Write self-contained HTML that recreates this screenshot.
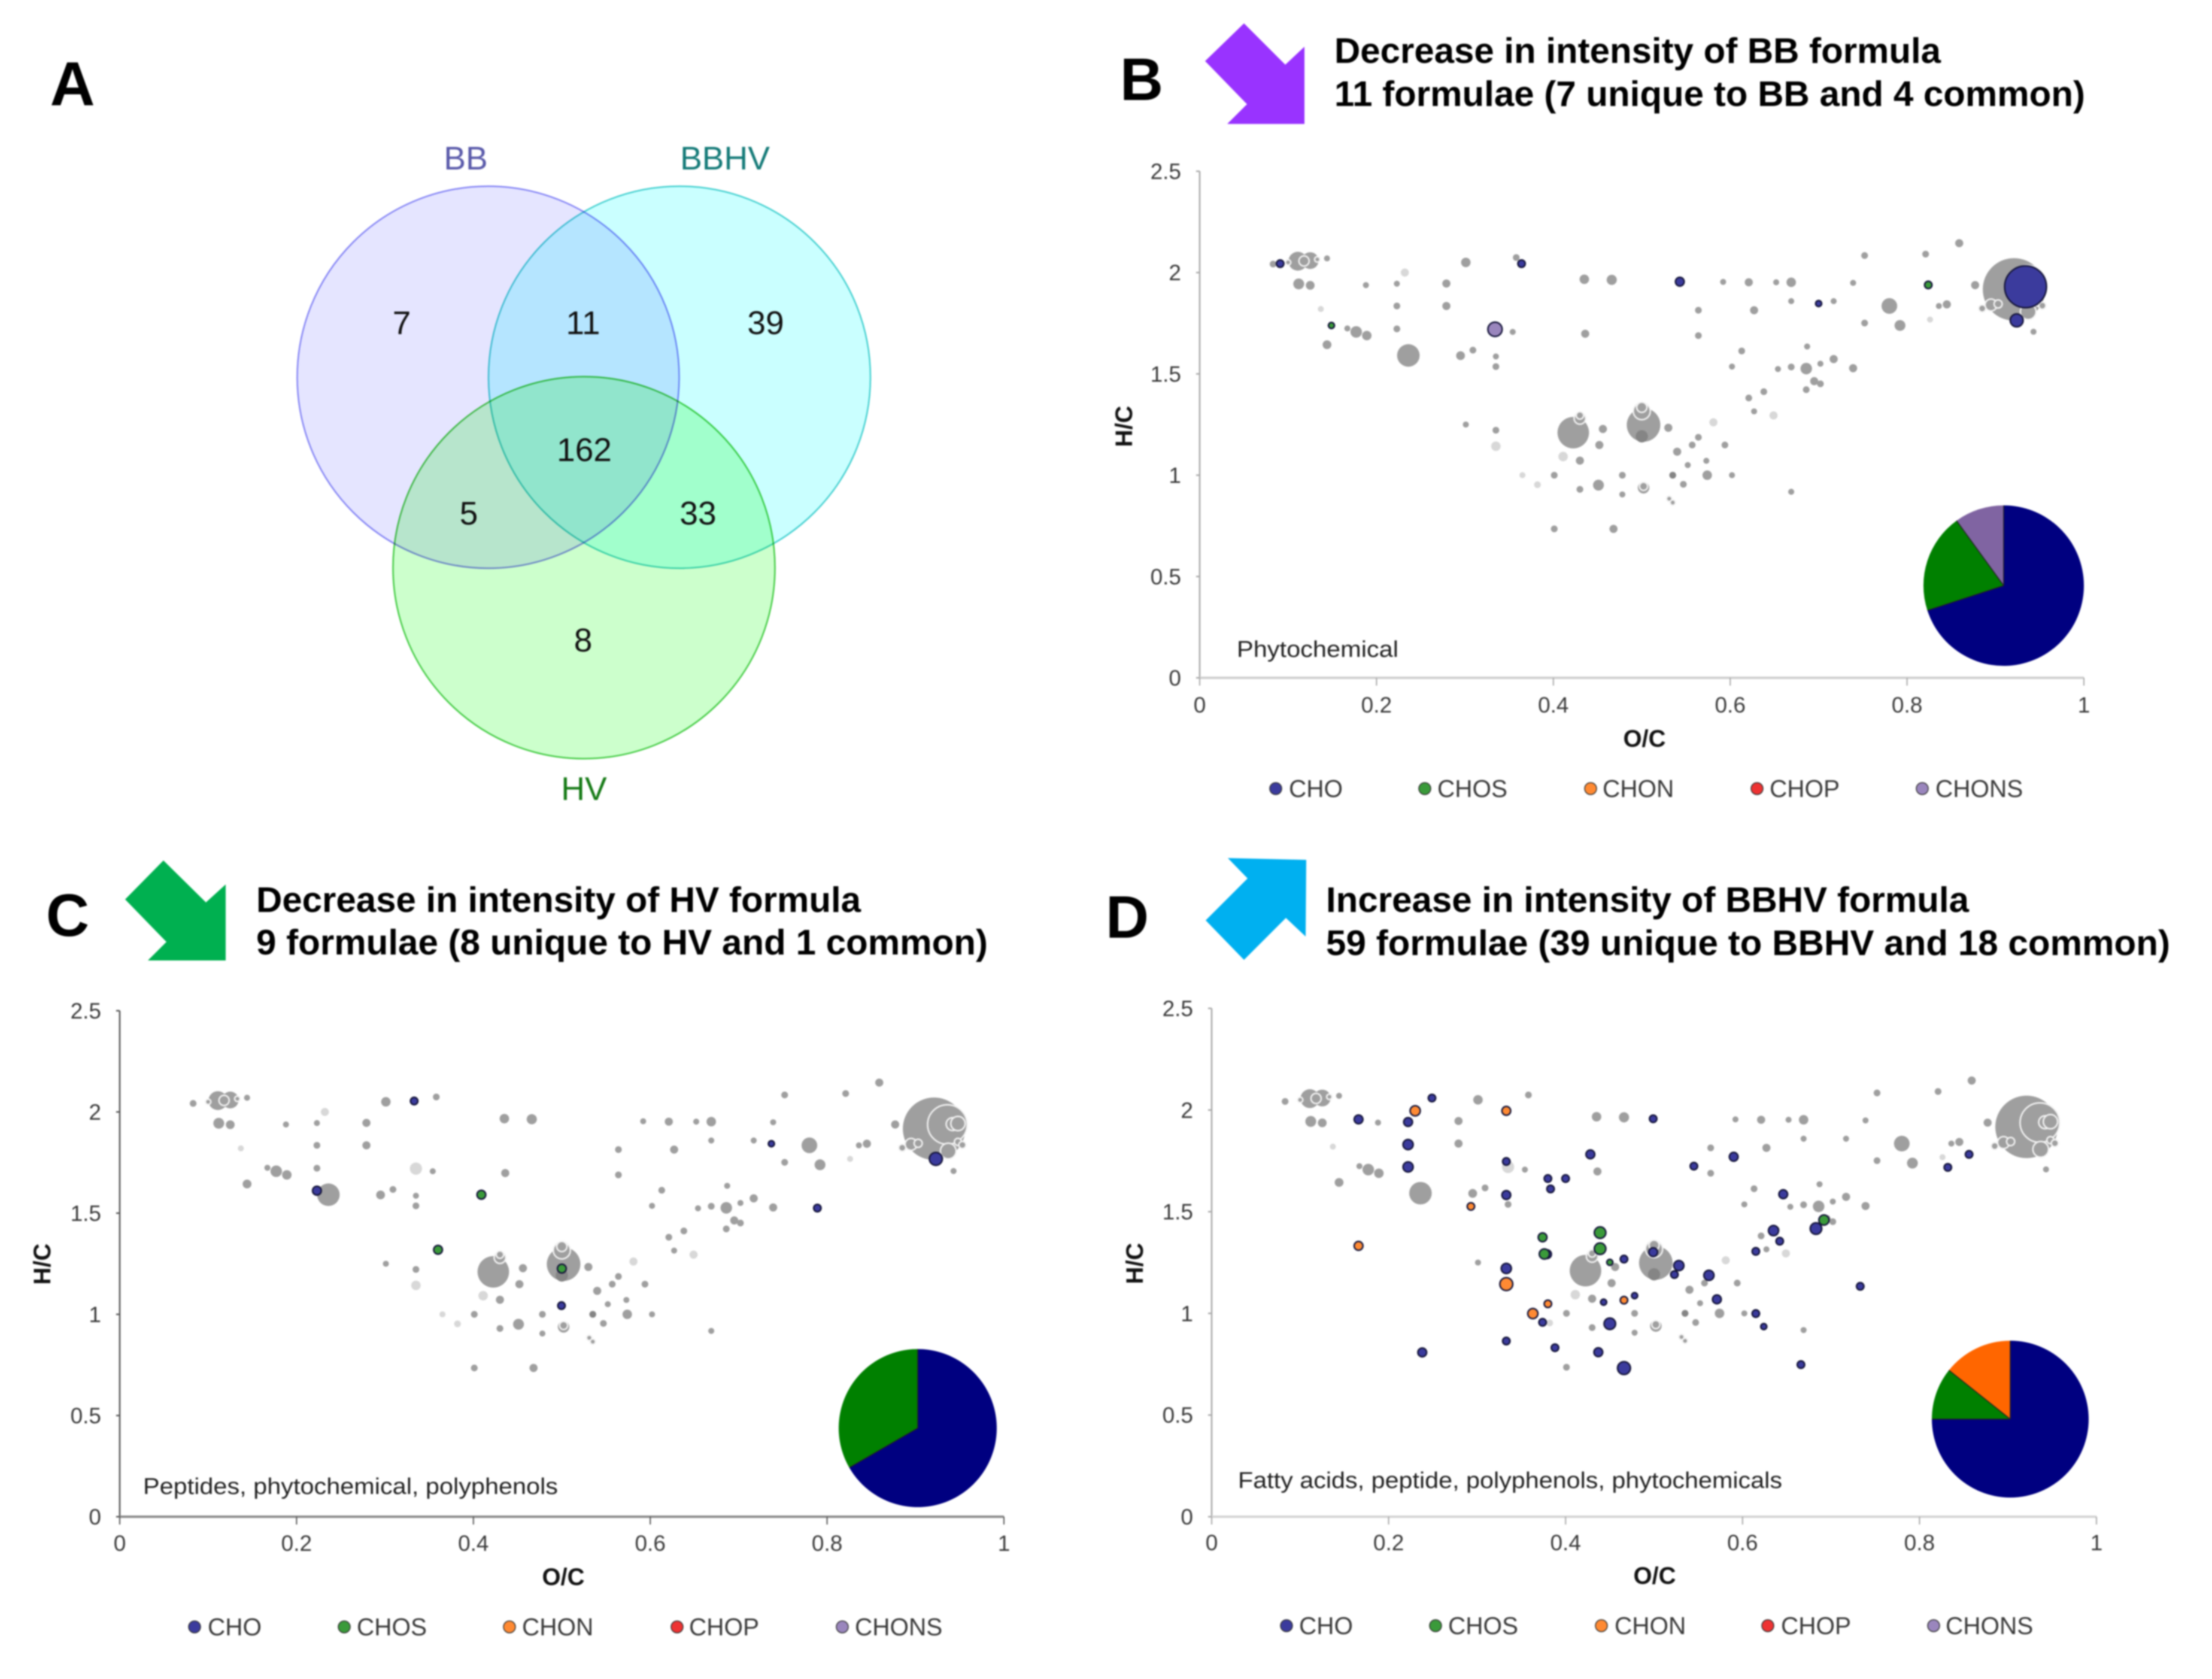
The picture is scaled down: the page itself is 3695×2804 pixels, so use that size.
<!DOCTYPE html>
<html lang="en">
<head>
<meta charset="utf-8">
<title>Van Krevelen diagrams of BB, HV and BBHV formulae</title>
<style>
html,body{margin:0;padding:0;background:#fff;}
svg{display:block;font-family:"Liberation Sans",sans-serif;filter:blur(1.2px);}
.panel-letter{font-weight:700;font-size:100px;fill:#000;text-anchor:middle;}
.title{font-weight:700;font-size:59px;fill:#000;}
.venn-count{font-size:55px;fill:#111;text-anchor:middle;}
.venn-name{font-size:55px;text-anchor:middle;}
.tick{font-size:37px;fill:#3a3a3a;}
.axis-title{font-weight:700;font-size:40px;fill:#111;text-anchor:middle;}
.legend-text{font-size:40.5px;fill:#3a3a3a;}
.note{font-size:38px;fill:#222;}
.legend-dot{stroke:#333;stroke-width:1.5;}
</style>
</head>
<body>
<svg id="figure" xmlns="http://www.w3.org/2000/svg" width="3695" height="2804" viewBox="0 0 3695 2804">
  <rect x="0" y="0" width="3695" height="2804" fill="#fff"/>

  <g>
    <text class="panel-letter" x="121" y="176" style="font-size:104px">A</text>
    <circle cx="815.5" cy="630" r="319" fill="#e5e5ff" stroke="#8585f5" stroke-width="2.5" style="mix-blend-mode:multiply"/>
    <circle cx="1135" cy="630" r="319" fill="#caffff" stroke="#45d0d0" stroke-width="2.5" style="mix-blend-mode:multiply"/>
    <circle cx="975.5" cy="948" r="319" fill="#ccffcc" stroke="#45cc45" stroke-width="2.5" style="mix-blend-mode:multiply"/>
    <text class="venn-name" x="778" y="283" fill="#5a5aaa">BB</text>
    <text class="venn-name" x="1211" y="283" fill="#147a78">BBHV</text>
    <text class="venn-name" x="975.5" y="1336" fill="#157a15">HV</text>
    <text class="venn-count" x="671" y="558">7</text>
    <text class="venn-count" x="974" y="558">11</text>
    <text class="venn-count" x="1279" y="558">39</text>
    <text class="venn-count" x="976" y="770">162</text>
    <text class="venn-count" x="783" y="876">5</text>
    <text class="venn-count" x="1166" y="876">33</text>
    <text class="venn-count" x="974" y="1088">8</text>
  </g>

  <g>
    <text class="panel-letter" x="1907" y="167">B</text>
    <polygon fill="#9933ff" points="2078,39 2013,102 2083,174 2050,207 2179,207 2179,78 2147,108"/>
    <text class="title" x="2229" y="105" textLength="1013" lengthAdjust="spacingAndGlyphs">Decrease in intensity of BB formula</text>
    <text class="title" x="2229" y="177" textLength="1254" lengthAdjust="spacingAndGlyphs">11 formulae (7 unique to BB and 4 common)</text>
  </g>
  <g>
    <text class="panel-letter" x="113" y="1563">C</text>
    <polygon fill="#00b050" points="273,1437 209,1502 278,1573 247,1604 377,1604 377,1477 344,1507"/>
    <text class="title" x="428" y="1523" textLength="1010" lengthAdjust="spacingAndGlyphs">Decrease in intensity of HV formula</text>
    <text class="title" x="428" y="1594" textLength="1222" lengthAdjust="spacingAndGlyphs">9 formulae (8 unique to HV and 1 common)</text>
  </g>
  <g>
    <text class="panel-letter" x="1883" y="1566">D</text>
    <polygon fill="#00b0f0" points="2051,1433 2084,1467 2014,1537 2078,1603 2148,1533 2181,1564 2182,1436"/>
    <text class="title" x="2215" y="1523" textLength="1074" lengthAdjust="spacingAndGlyphs">Increase in intensity of BBHV formula</text>
    <text class="title" x="2215" y="1595" textLength="1410" lengthAdjust="spacingAndGlyphs">59 formulae (39 unique to BBHV and 18 common)</text>
  </g>

  <g>
    <text class="axis-title" x="2747" y="1247">O/C</text>
    <text class="axis-title" transform="translate(1891 712) rotate(-90)">H/C</text>
    <text class="note" x="2066" y="1097" textLength="270" lengthAdjust="spacingAndGlyphs">Phytochemical</text>
    <g>
      <circle class="legend-dot" cx="2131" cy="1317" r="10" fill="#3b3b9d"/>
      <text class="legend-text" x="2153" y="1331">CHO</text>
      <circle class="legend-dot" cx="2380" cy="1317" r="10" fill="#3a9a3a"/>
      <text class="legend-text" x="2401" y="1331">CHOS</text>
      <circle class="legend-dot" cx="2657" cy="1317" r="10" fill="#ff8a33"/>
      <text class="legend-text" x="2677" y="1331">CHON</text>
      <circle class="legend-dot" cx="2935" cy="1317" r="10" fill="#ee3333"/>
      <text class="legend-text" x="2956" y="1331">CHOP</text>
      <circle class="legend-dot" cx="3211" cy="1317" r="10" fill="#9a86bd"/>
      <text class="legend-text" x="3233" y="1331">CHONS</text>
    </g>
  </g>
  <g>
    <text class="axis-title" x="941" y="2647">O/C</text>
    <text class="axis-title" transform="translate(84 2111) rotate(-90)">H/C</text>
    <text class="note" x="239" y="2495" textLength="693" lengthAdjust="spacingAndGlyphs">Peptides, phytochemical, polyphenols</text>
    <g>
      <circle class="legend-dot" cx="325" cy="2717" r="10" fill="#3b3b9d"/>
      <text class="legend-text" x="347" y="2731">CHO</text>
      <circle class="legend-dot" cx="575" cy="2717" r="10" fill="#3a9a3a"/>
      <text class="legend-text" x="596" y="2731">CHOS</text>
      <circle class="legend-dot" cx="851" cy="2717" r="10" fill="#ff8a33"/>
      <text class="legend-text" x="872" y="2731">CHON</text>
      <circle class="legend-dot" cx="1131" cy="2717" r="10" fill="#ee3333"/>
      <text class="legend-text" x="1151" y="2731">CHOP</text>
      <circle class="legend-dot" cx="1407" cy="2717" r="10" fill="#9a86bd"/>
      <text class="legend-text" x="1428" y="2731">CHONS</text>
    </g>
  </g>
  <g>
    <text class="axis-title" x="2764" y="2645">O/C</text>
    <text class="axis-title" transform="translate(1909 2110) rotate(-90)">H/C</text>
    <text class="note" x="2068" y="2485" textLength="909" lengthAdjust="spacingAndGlyphs">Fatty acids, peptide, polyphenols, phytochemicals</text>
    <g>
      <circle class="legend-dot" cx="2149" cy="2715" r="10" fill="#3b3b9d"/>
      <text class="legend-text" x="2170" y="2729">CHO</text>
      <circle class="legend-dot" cx="2398" cy="2715" r="10" fill="#3a9a3a"/>
      <text class="legend-text" x="2419" y="2729">CHOS</text>
      <circle class="legend-dot" cx="2675" cy="2715" r="10" fill="#ff8a33"/>
      <text class="legend-text" x="2697" y="2729">CHON</text>
      <circle class="legend-dot" cx="2953" cy="2715" r="10" fill="#ee3333"/>
      <text class="legend-text" x="2975" y="2729">CHOP</text>
      <circle class="legend-dot" cx="3230" cy="2715" r="10" fill="#9a86bd"/>
      <text class="legend-text" x="3250" y="2729">CHONS</text>
    </g>
  </g>
</svg>

<script>
const xTickLabels = [0, 0.2, 0.4, 0.6, 0.8, 1];
const yTickLabels = [0, 0.5, 1, 1.5, 2, 2.5];

/* Shared background formulae: O/C, H/C and relative intensity */
const grayOC = [
  .083,.144,.112,.125,.188,.223,.301,.358,.279,.223,
  .279,.167,.177,.189,.223,.144,.236,.295,.309,.335,
  .335,.354,.436,.435,.466,.592,.621,.652,.669,.739,
  .752,.821,.859,.877,.78,.792,.752,.836,.845,.943,
  .669,.717,.564,.627,.564,.687,.613,.602,.654,.669,
  .686,.702,.717,.739,.695,.702,.686,.638,.621,.627,
  .4225,.502,.301,.335,.456,.452,.43,.53,.564,.557,
  .54,.594,.552,.573,.401,.478,.535,.574,.602,.43,
  .451,.502,.478,.547,.669,.401,.468,.921,.111,.125
];
const grayHC = [
  2.042,2.07,1.944,1.937,1.938,1.945,2.05,2.074,1.946,1.835,
  1.835,1.724,1.707,1.689,1.722,1.644,1.591,1.59,1.617,1.586,
  1.536,1.707,1.698,1.967,1.964,1.954,1.952,1.952,1.952,1.949,
  2.084,2.091,2.145,1.938,1.835,1.739,1.751,1.835,1.843,1.708,
  1.859,1.859,1.814,1.814,1.689,1.635,1.613,1.536,1.524,1.534,
  1.526,1.55,1.573,1.528,1.464,1.451,1.422,1.412,1.381,1.315,
  1.21,1.248,1.25,1.222,1.228,1.149,1.072,1.234,1.187,1.149,
  1.116,1.149,1.05,1.071,1,1,1,1,1,.93,
  .951,.938,.905,.955,.918,.735,.735,1.917,2.056,2.059
];
const grayIntensity = [
  3.5,3,6.5,5,3,3,5.5,3.5,4.5,3.5,
  4.5,3,7,5.5,3.5,5,15,5,3.5,3,
  3.5,3,4.5,5.5,6,3,4.5,3,5.5,3,
  3.5,3.5,4.5,4.5,10,6.5,3.5,3,4.5,3,
  3,3,3.5,4.5,3.5,3,3.5,3,3,3.5,
  7,3,4.5,4.5,4.5,3.5,3.5,3.5,3.5,3,
  21.5,23,3,3.5,4.5,4.5,4.5,4.5,3.5,3.5,
  4.5,3.5,3,3,3.5,3.5,3.5,5.5,3,3.5,
  6.5,7,3,3.5,3,3.5,4.5,44,12.3,10.8
];

const paleOC = [.232,.137,.826,.649,.335,.411,.581,.365,.382,.335];
const paleHC = [2,1.82,1.768,1.295,1.143,1.092,1.261,1,.953,1.72];
const paleIntensity = [4.5,3,3,4.5,5.5,5.5,4.5,3,3.5,7.5];

/* Overlapping formulae that show as white-edged rings */
const ringOC = [.936,.942,.948,.937,.948,.953,.895,.903,.885,.118,.133,.1,.5,.5,.43,.43,.502,.531,.535];
const ringHC = [1.938,1.94,1.943,1.807,1.852,1.837,1.84,1.845,1.823,2.057,2.065,2.05,1.316,1.335,1.28,1.295,.945,.884,.865];
const ringIntensity = [27.3,8,9,10,3.8,3.8,7.3,4.5,3.8,6,2.5,2.5,11,6,7,4,4.5,2.5,2.5];

const shadeOC = [.5,.535];
const shadeHC = [1.192,1];
const shadeIntensity = [7.5,3.5];

/* Panel B */
const bChoOC = [.091,.364,.543,.70,.934,.924];
const bChoHC = [2.044,2.044,1.955,1.847,1.93,1.764];
const bChoIntensity = [4,4,5,3,29,8];
const bChosOC = [.149,.824];
const bChosHC = [1.739,1.939];
const bChosIntensity = [3,4];
const bChonsOC = [.334];
const bChonsHC = [1.72];
const bChonsIntensity = [9];
const bPieValues = [7,2,1];

/* Panel C */
const cChoOC = [.333,.223,.789,.737,.923,.4996];
const cChoHC = [2.054,1.611,1.525,1.843,1.768,1.043];
const cChoIntensity = [4,5,4,3,8,4];
const cChosOC = [.409,.36,.5];
const cChosHC = [1.591,1.319,1.226];
const cChosIntensity = [5,5,5];
const cPieValues = [6,3];

/* Panel D */
const dChoOC = [.249,.166,.222,.222,.222,.333,.333,.428,.38,.40,.383,.499,.545,.59,.646,.856,.832,.635,.683,.642,.615,.379,.499,.333,.528,.523,.562,.466,.478,.443,.571,.615,.624,.374,.45,.333,.388,.437,.238,.466,.666,.733];
const dChoHC = [2.059,1.954,1.941,1.83,1.72,1.747,1.582,1.782,1.663,1.663,1.612,1.957,1.724,1.77,1.586,1.782,1.718,1.407,1.417,1.355,1.305,1.291,1.301,1.221,1.235,1.191,1.187,1.267,1.087,1.055,1.069,.999,.935,.956,.949,.864,.831,.809,.808,.731,.748,1.133];
const dChoIntensity = [4,5,5,6,6,4,5,5,4,4,4,4,4,5,5,4,4,6,7,4,4,5,5,6,6,4,6,4,3,3,5,4,3,4,7,4,4,5,5,8,4,4];
const dChosOC = [.439,.439,.374,.376,.692,.45];
const dChosHC = [1.397,1.318,1.374,1.292,1.459,1.251];
const dChosIntensity = [7,7,5,6,6,3];
const dChonOC = [.23,.333,.293,.166,.333,.363,.38,.466];
const dChonHC = [1.996,1.996,1.526,1.332,1.144,.999,1.047,1.065];
const dChonIntensity = [6,5,4,5,8,6,4,4];
const dPieValues = [42,6,8];

const SVG_NS = 'http://www.w3.org/2000/svg';
const COLOR = {cho:'#3b3b9d', chos:'#3a9a3a', chon:'#ff8a33', chons:'#9a86bd'};
const PIE_COLOR = {navy:'#000080', green:'#008000', purple:'#8064a2', orange:'#ff6600'};
const X_MAX = 1, Y_MAX = 2.5;

const panels = [
  {key:'b', left:2004, right:3481, top:286, bottom:1132, axis:'#a8a8a8', base:'#cfcfcf', xLabelDy:58, yLabelGap:31,
   pie:{cx:3347, cy:978, r:134, values:bPieValues, colors:[PIE_COLOR.navy,PIE_COLOR.green,PIE_COLOR.purple], names:['cho','chos','chons']},
   series:[
     {name:'chons', oc:bChonsOC, hc:bChonsHC, v:bChonsIntensity, fill:COLOR.chons},
     {name:'cho', oc:bChoOC, hc:bChoHC, v:bChoIntensity, fill:COLOR.cho},
     {name:'chos', oc:bChosOC, hc:bChosHC, v:bChosIntensity, fill:COLOR.chos}
   ]},
  {key:'c', left:200, right:1677, top:1688, bottom:2533, axis:'#555555', base:'#8c8c8c', xLabelDy:57, yLabelGap:31,
   pie:{cx:1533, cy:2385, r:132, values:cPieValues, colors:[PIE_COLOR.navy,PIE_COLOR.green], names:['cho','chos']},
   series:[
     {name:'cho', oc:cChoOC, hc:cChoHC, v:cChoIntensity, fill:COLOR.cho},
     {name:'chos', oc:cChosOC, hc:cChosHC, v:cChosIntensity, fill:COLOR.chos}
   ]},
  {key:'d', left:2024, right:3502, top:1684, bottom:2533, axis:'#a8a8a8', base:'#d4d4d4', xLabelDy:56, yLabelGap:31,
   pie:{cx:3358, cy:2370, r:131, values:dPieValues, colors:[PIE_COLOR.navy,PIE_COLOR.green,PIE_COLOR.orange], names:['cho','chos','chon']},
   series:[
     {name:'cho', oc:dChoOC, hc:dChoHC, v:dChoIntensity, fill:COLOR.cho},
     {name:'chos', oc:dChosOC, hc:dChosHC, v:dChosIntensity, fill:COLOR.chos},
     {name:'chon', oc:dChonOC, hc:dChonHC, v:dChonIntensity, fill:COLOR.chon}
   ]}
];

function xScale(p, v) { return p.left + (v / X_MAX) * (p.right - p.left); }
function yScale(p, v) { return p.bottom - (v / Y_MAX) * (p.bottom - p.top); }
function rScale(v) { return v * 1.15 + 1.6; }

function make(tag, parent, attrs) {
  const el = document.createElementNS(SVG_NS, tag);
  for (const k in attrs) el.setAttribute(k, attrs[k]);
  parent.appendChild(el);
  return el;
}

function drawAxes(p, g) {
  const yAxis = make('line', g, {x1:p.left, x2:p.left, y1:p.top, y2:p.bottom, stroke:p.axis, 'stroke-width':2.5});
  
  
  const xAxis = make('line', g, {x1:p.left, x2:p.right, y1:p.bottom, y2:p.bottom, stroke:p.base, 'stroke-width':4});
  
  
  yTickLabels.forEach(function (t) {
    const y = yScale(p, t);
    const tick = make('line', g, {x1:p.left - 6, x2:p.left, y1:y, y2:y, stroke:p.axis, 'stroke-width':2.5});
    
    
    const label = make('text', g, {x:p.left - p.yLabelGap, y:y + 13, 'text-anchor':'end', class:'tick'});
    
    
    label.textContent = String(t);
  });
  xTickLabels.forEach(function (t) {
    const x = xScale(p, t);
    const tick = make('line', g, {x1:x, x2:x, y1:p.bottom, y2:p.bottom + 13, stroke:p.axis, 'stroke-width':2});
    
    
    const label = make('text', g, {x:x, y:p.bottom + p.xLabelDy, 'text-anchor':'middle', class:'tick'});
    
    
    label.textContent = String(t);
  });
}

function drawPoints(p, g, oc, hc, v, style, name) {
  oc.forEach(function (val, i) {
    const attrs = {cx:xScale(p, val), cy:yScale(p, hc[i]), r:rScale(v[i])};
    for (const k in style) attrs[k] = style[k];
    const c = make('circle', g, attrs);
    
    
  });
}

function polar(pie, deg) {
  const a = deg * Math.PI / 180;
  return [pie.cx + pie.r * Math.sin(a), pie.cy - pie.r * Math.cos(a)];
}

function drawPie(p, g) {
  const pie = p.pie;
  const total = pie.values.reduce(function (a, b) { return a + b; }, 0);
  let start = 0;
  pie.values.forEach(function (val, i) {
    const sweep = val / total * 360;
    const a = polar(pie, start), b = polar(pie, start + sweep);
    const d = 'M' + pie.cx + ' ' + pie.cy + 'L' + a[0] + ' ' + a[1] +
      'A' + pie.r + ' ' + pie.r + ' 0 ' + (sweep > 180 ? 1 : 0) + ' 1 ' + b[0] + ' ' + b[1] + 'Z';
    const slice = make('path', g, {d:d, fill:pie.colors[i]});
    
    
    start += sweep;
  });
  start = 0;
  pie.values.forEach(function (val) {
    const e = polar(pie, start);
    const sep = make('line', g, {x1:pie.cx, y1:pie.cy, x2:e[0], y2:e[1], stroke:'#222', 'stroke-width':1.5});
    
    
    start += val / total * 360;
  });
}

const figure = document.getElementById('figure');
panels.forEach(function (p) {
  const chart = make('g', figure, {});
  
  
  drawAxes(p, chart);
  drawPoints(p, chart, grayOC, grayHC, grayIntensity, {fill:'#9f9f9f'}, 'background-formula-point');
  drawPoints(p, chart, paleOC, paleHC, paleIntensity, {fill:'#d8d8d8'}, 'pale-formula-point');
  drawPoints(p, chart, shadeOC, shadeHC, shadeIntensity, {fill:'#858585'}, 'dark-formula-point');
  drawPoints(p, chart, ringOC, ringHC, ringIntensity, {fill:'#9f9f9f', stroke:'#f4f4f4', 'stroke-width':2.5}, 'ringed-formula-point');
  p.series.forEach(function (s) {
    drawPoints(p, chart, s.oc, s.hc, s.v, {fill:s.fill, stroke:'#15153a', 'stroke-width':2.5}, 'point-' + s.name);
  });
  drawPie(p, chart);
});
</script>
</body>
</html>
